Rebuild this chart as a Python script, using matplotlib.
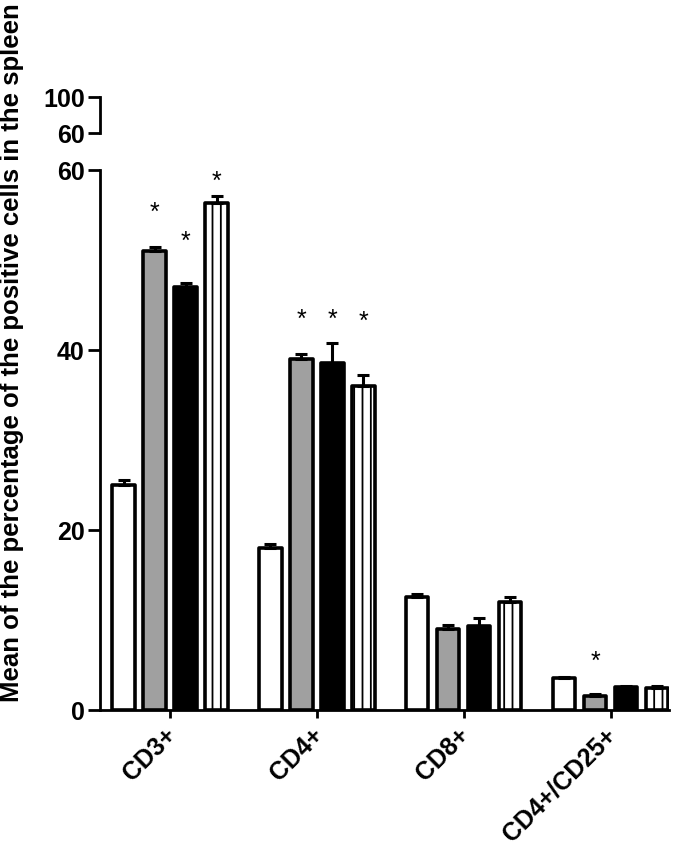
import numpy as np
import matplotlib
matplotlib.use("Agg")
import matplotlib.pyplot as plt

plt.rcParams['font.family'] = ['Liberation Sans', 'DejaVu Sans']
plt.rcParams['font.weight'] = 'bold'
plt.rcParams['hatch.linewidth'] = 1.3

groups = ['CD3+', 'CD4+', 'CD8+', 'CD4+/CD25+']
white_vals = [25.0, 18.0, 12.6, 3.6]
white_err = [0.6, 0.5, 0.3, 0.1]
gray_vals = [51.0, 39.0, 9.0, 1.6]
gray_err = [0.5, 0.6, 0.5, 0.2]
black_vals = [47.0, 38.6, 9.3, 2.6]
black_err = [0.5, 2.2, 0.9, 0.1]
stripe_vals = [56.3, 36.0, 12.0, 2.5]
stripe_err = [0.8, 1.2, 0.6, 0.2]
# height of the significance star for each bar (None = no star)
star_levels = [
    [None, 55.2, 52.0, 58.7],
    [None, 43.3, 43.3, 43.1],
    [None, None, None, None],
    [None, 5.3, None, None],
]

series = [
    (white_vals, white_err, 'white', ''),
    (gray_vals, gray_err, '#a0a0a0', ''),
    (black_vals, black_err, 'black', ''),
    (stripe_vals, stripe_err, 'white', '||'),
]

fig = plt.figure(figsize=(6.85, 8.57), dpi=100)
ax = fig.add_axes([0.146, 0.1715, 0.83, 0.6301])
ax_top = fig.add_axes([0.146, 0.8448, 0.83, 0.042])

x = np.arange(len(groups))
pitch = 0.211
width = 0.152
for i, (vals, err, color, hatch) in enumerate(series):
    pos = x + (i - 1.5) * pitch
    bars = ax.bar(pos, vals, width, color=color, edgecolor='black', linewidth=2.6,
                  hatch=hatch, zorder=2)
    for b in bars:
        b.set_joinstyle('round')
    ax.errorbar(pos, vals, yerr=[np.zeros(len(vals)), err], fmt='none',
                ecolor='black', elinewidth=2.2, capsize=4, capthick=2.2, zorder=3)
    for j in range(len(groups)):
        if star_levels[j][i] is not None:
            ax.text(pos[j], star_levels[j][i], '*', ha='center', va='center',
                    fontsize=18, fontweight='normal')

ax.set_xlim(-0.477, 3.395)
ax.set_ylim(0, 60)
ax.set_yticks([0, 20, 40, 60])
ax.set_xticks(x)
ax.set_xticklabels([])
# group labels drawn by hand so the rotated text ends right at the tick
for xi, name in zip(x, groups):
    ax.annotate(name, xy=(xi, 0), xycoords=('data', 'axes fraction'),
                xytext=(-4.5, -9.5), textcoords='offset points',
                rotation=45, ha='right', va='top', rotation_mode='anchor',
                fontsize=18, fontweight='bold', annotation_clip=False)
for s in ['top', 'right']:
    ax.spines[s].set_visible(False)
for s in ['left', 'bottom']:
    ax.spines[s].set_linewidth(2)
ax.tick_params(axis='y', length=9, width=2, labelsize=18, pad=2)
ax.tick_params(axis='x', length=6, width=2, pad=4)

ax_top.set_ylim(60, 100)
ax_top.set_yticks([60, 100])
ax_top.set_xlim(-0.477, 3.395)
ax_top.set_xticks([])
for s in ['top', 'right', 'bottom']:
    ax_top.spines[s].set_visible(False)
ax_top.spines['left'].set_linewidth(2)
ax_top.tick_params(axis='y', length=9, width=2, labelsize=18, pad=2)
ax_top.patch.set_visible(False)

fig.text(0.017, 0.588, 'Mean of the percentage of the positive cells in the spleen',
         rotation=90, ha='center', va='center', fontsize=18.5, fontweight='bold')

fig.savefig('out.png', dpi=100)
